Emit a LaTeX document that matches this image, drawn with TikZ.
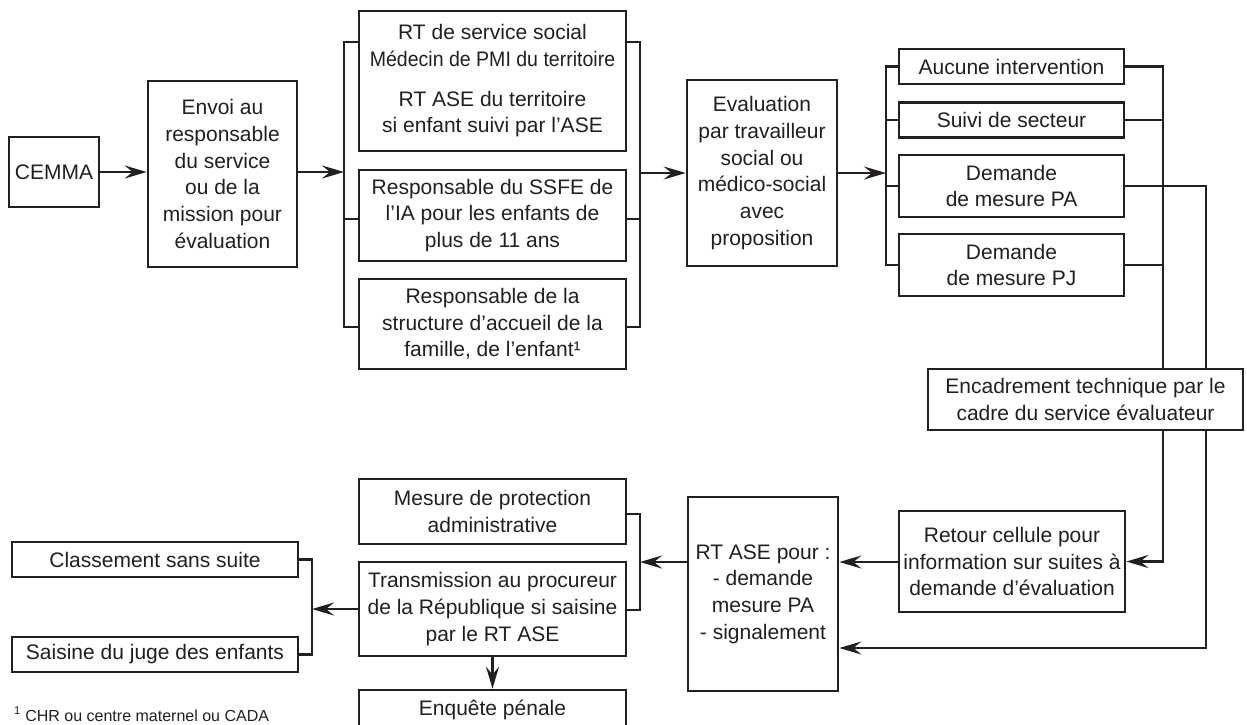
\documentclass[tikz,border=0pt]{standalone}
\usepackage{fontspec}
\setmainfont{Liberation Sans}
\usetikzlibrary{arrows.meta}
\definecolor{ink}{HTML}{231F20}
\begin{document}
\begin{tikzpicture}[x=1pt,y=-1pt,
  box/.style={draw=ink, line width=2.7pt, fill=white, inner sep=0pt, align=center,
    text=ink, font=\fontsize{21}{26.7}\selectfont},
  link/.style={draw=ink, line width=2.6pt},
  arr/.style={link, -{Stealth[length=22pt,width=13pt,inset=8pt]}},
]
\useasboundingbox (0,0) rectangle (1247,724);

% ---------- upper chain ----------
\node[box, minimum width=90pt, minimum height=70pt] (cemma) at (54,172) {CEMMA};
\node[box, minimum width=149pt, minimum height=186pt] (envoi) at (222.5,174)
  {Envoi au\\responsable\\du service\\ou de la\\mission pour\\évaluation};

\node[box, minimum width=267pt, minimum height=140pt] (rt) at (492.5,81)
  {RT de service social\\\scalebox{0.93}[1]{Médecin de PMI du territoire}\\[13pt]RT ASE du territoire\\si enfant suivi par l’ASE};
\node[box, minimum width=267pt, minimum height=91pt] (ssfe) at (492.5,215.5)
  {Responsable du SSFE de\\l’IA pour les enfants de\\plus de 11 ans};
\node[box, minimum width=267pt, minimum height=90pt] (struct) at (492.5,324)
  {Responsable de la\\structure d’accueil de la\\famille, de l’enfant¹};

\node[box, minimum width=150pt, minimum height=186pt] (eval) at (762,173)
  {Evaluation\\par travailleur\\social ou\\médico-social\\avec\\proposition};

\node[box, minimum width=225pt, minimum height=35pt] (aucune) at (1011.5,66.5) {Aucune intervention};
\node[box, minimum width=225pt, minimum height=35pt] (suivi) at (1011.5,120) {Suivi de secteur};
\node[box, minimum width=225pt, minimum height=62pt] (dpa) at (1011.5,186) {Demande\\de mesure PA};
\node[box, minimum width=225pt, minimum height=62pt] (dpj) at (1011.5,265) {Demande\\de mesure PJ};

\node[box, minimum width=315pt, minimum height=61pt] (encad) at (1085.5,399.5)
  {Encadrement technique par le\\cadre du service évaluateur};

% ---------- lower chain ----------
\node[box, minimum width=226pt, minimum height=101pt] (retour) at (1012,561.5)
  {Retour cellule pour\\information sur suites à\\demande d’évaluation};
\node[box, minimum width=150pt, minimum height=194pt] (rtase) at (763,594)
  {RT ASE pour :\\- demande\\mesure PA\\- signalement};
\node[box, minimum width=267pt, minimum height=65pt] (mesure) at (492.5,511.5)
  {Mesure de protection\\administrative};
\node[box, minimum width=267pt, minimum height=94pt] (trans) at (492.5,609)
  {Transmission au procureur\\de la République si saisine\\par le RT ASE};
\node[box, minimum width=267pt, minimum height=40pt] (enq) at (492.5,710) {Enquête pénale};
\node[box, minimum width=286pt, minimum height=35pt] (class) at (155,559.5) {Classement sans suite};
\node[box, minimum width=286pt, minimum height=35pt] (saisine) at (155,654.5) {Saisine du juge des enfants};

\node[anchor=base west, inner sep=0pt, text=ink, font=\fontsize{16}{19}\selectfont] (note)
  at (14,721) {\textsuperscript{1} CHR ou centre maternel ou CADA};

% ---------- bracket and junction points ----------
\coordinate (Lt) at (344,42);  \coordinate (Lm) at (344,219); \coordinate (Lb) at (344,327);
\coordinate (La) at (344,172);
\coordinate (Rt) at (640,42);  \coordinate (Rm) at (640,219); \coordinate (Rb) at (640,327);
\coordinate (Ra) at (640,173);
\coordinate (Ea) at (886,173);
\coordinate (Ex) at (886,0);
\coordinate (Cx) at (1163,0);
\coordinate (Px) at (1206,0);
\coordinate (Sg) at (1206,648);
\coordinate (Ma) at (640,562);
\coordinate (Mt) at (640,514); \coordinate (Mb) at (640,610);
\coordinate (Ta) at (312,609);
\coordinate (Tx) at (312,0);

% ---------- connectors ----------
\draw[arr] (cemma.east) -- (cemma.east -| envoi.west);
\draw[arr] (envoi.east |- La) -- (La);
\draw[link] (rt.west |- Lt) -- (Lt) -- (Lb) -- (struct.west |- Lb);
\draw[link] (Lm) -- (ssfe.west |- Lm);

\draw[link] (rt.east |- Rt) -- (Rt) -- (Rb) -- (struct.east |- Rb);
\draw[link] (ssfe.east |- Rm) -- (Rm);
\draw[arr] (Ra) -- (eval.west |- Ra);

\draw[arr] (eval.east |- Ea) -- (Ea);
\draw[link] (aucune.west) -- (aucune.west -| Ex) -- (dpj.west -| Ex) -- (dpj.west);
\draw[link] (suivi.west -| Ex) -- (suivi.west);
\draw[link] (dpa.west -| Ex) -- (dpa.west);

\draw[link] (aucune.east) -- (aucune.east -| Cx) -- (encad.north -| Cx);
\draw[link] (suivi.east) -- (suivi.east -| Cx);
\draw[link] (dpj.east) -- (dpj.east -| Cx);
\draw[link] (dpa.east) -- (dpa.east -| Px) -- (encad.north -| Px);

\draw[arr] (encad.south -| Cx) -- (retour.east -| Cx) -- (retour.east);
\draw[arr] (encad.south -| Px) -- (Sg) -- (rtase.east |- Sg);
\draw[arr] (retour.west |- Ma) -- (rtase.east |- Ma);

\draw[arr] (rtase.west |- Ma) -- (Ma);
\draw[link] (mesure.east |- Mt) -- (Mt) -- (Mb) -- (trans.east |- Mb);

\draw[arr] (trans.west |- Ta) -- (Ta);
\draw[link] (class.east) -- (class.east -| Tx) -- (saisine.east -| Tx) -- (saisine.east);
\draw[arr] (trans.south) -- (enq.north);
\end{tikzpicture}
\end{document}
